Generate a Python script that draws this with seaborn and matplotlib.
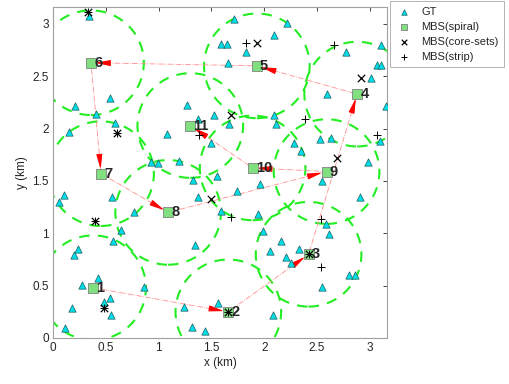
import numpy as np
import pandas as pd
import matplotlib
matplotlib.use("Agg")
import matplotlib.pyplot as plt
from matplotlib.patches import Circle
import seaborn as sns

# Donnees (km)

gt_x = [0.34, 0.54, 0.205, 0.41, 0.15, 0.59, 1.27, 1.37, 1.08, 0.93, 0.99, 1.19,
        1.50, 1.71, 2.22, 2.09, 1.59, 1.645, 1.83, 1.66, 2.77, 3.11, 3.07, 3.11,
        3.01, 2.59, 3.15, 1.52, 1.67, 2.09, 2.11, 2.285, 2.35, 2.53, 2.63, 3.10,
        2.98, 1.33, 1.37, 0.10, 0.06, 0.555, 0.77, 0.64, 0.57, 0.24, 0.20, 1.34,
        0.43, 0.275, 0.86, 0.54, 0.48, 0.18, 0.55, 1.24, 0.11, 1.32, 1.44, 1.55,
        1.74, 1.96, 1.59, 1.94, 1.99, 2.16, 2.05, 2.33, 2.21, 2.25, 2.545, 2.91,
        2.585, 2.61, 2.80, 2.86, 2.55, 1.56, 2.08]
gt_y = [3.08, 2.29, 2.22, 2.14, 1.97, 2.05, 2.23, 2.09, 1.95, 1.68, 1.67, 1.69,
        1.86, 3.05, 3.01, 2.89, 2.81, 2.81, 2.73, 2.63, 2.73, 2.80, 2.61, 2.61,
        2.48, 2.33, 2.22, 2.13, 2.04, 2.13, 2.04, 1.86, 1.785, 1.90, 1.91, 1.88,
        1.68, 1.51, 1.35, 1.365, 1.295, 1.35, 1.20, 1.03, 0.93, 0.85, 0.795, 0.89,
        0.57, 0.51, 0.49, 0.38, 0.34, 0.285, 0.215, 0.30, 0.10, 0.105, 0.07, 1.545,
        1.40, 1.47, 1.21, 1.185, 1.02, 0.93, 0.83, 0.85, 0.77, 0.72, 1.50, 1.35,
        1.09, 0.99, 0.60, 0.60, 0.49, 0.33, 0.22]

spiral_x = [0.38, 1.66, 2.42, 2.88, 1.93, 0.36, 0.455, 1.09, 2.59, 1.89, 1.30]
spiral_y = [0.48, 0.25, 0.80, 2.33, 2.60, 2.63, 1.57, 1.20, 1.59, 1.625, 2.03]

core_x = [0.33, 0.61, 1.935, 2.92, 1.69, 2.69, 1.50, 0.40, 0.485, 1.66, 2.42]
core_y = [3.11, 1.96, 2.82, 2.48, 2.13, 1.72, 1.33, 1.12, 0.29, 0.25, 0.80]

strip_x = [0.33, 0.61, 1.38, 1.83, 2.66, 2.39, 3.07, 1.69, 2.535, 2.535, 0.40,
           0.485, 1.66, 2.42]
strip_y = [3.11, 1.96, 1.94, 2.82, 2.80, 2.09, 1.94, 1.16, 1.135, 0.68, 1.12,
           0.29, 0.25, 0.80]

rayon = 0.5
cote = np.sqrt(10)

sns.set_style("white")
plt.rcParams['font.family'] = ['Liberation Sans', 'DejaVu Sans']

fig = plt.figure(figsize=(5.09, 3.84), dpi=100)
ax = fig.add_axes([53 / 509, 46 / 384, 334 / 509, 331 / 384])

# cercles de couverture
for cx, cy in zip(spiral_x, spiral_y):
    ax.add_patch(Circle((cx, cy), rayon, fill=False, ec='#22ee22', lw=1.5,
                        ls=(0, (5, 4)), zorder=2))

# trajet spirale
ax.plot(spiral_x, spiral_y, ls='-.', color='#ff8c8c', lw=0.6, zorder=3)
for i in range(len(spiral_x) - 1):
    x0, y0 = spiral_x[i], spiral_y[i]
    x1, y1 = spiral_x[i + 1], spiral_y[i + 1]
    d = np.hypot(x1 - x0, y1 - y0)
    ux, uy = (x1 - x0) / d, (y1 - y0) / d
    ax.annotate('', xy=(x1 - ux * 0.04, y1 - uy * 0.04),
                xytext=(x1 - ux * 0.13, y1 - uy * 0.13),
                arrowprops=dict(arrowstyle='-|>,head_length=1.1,head_width=0.22',
                                color='red', lw=0.8, shrinkA=0, shrinkB=0,
                                mutation_scale=8),
                zorder=4)

gt = pd.DataFrame({'x': gt_x, 'y': gt_y})
spiral = pd.DataFrame({'x': spiral_x, 'y': spiral_y})
core = pd.DataFrame({'x': core_x, 'y': core_y})
strip = pd.DataFrame({'x': strip_x, 'y': strip_y})

sns.scatterplot(data=gt, x='x', y='y', marker='^', s=28, color='#00dde8',
                edgecolor='#206060', linewidth=0.5, label='GT', ax=ax, zorder=5)
sns.scatterplot(data=spiral, x='x', y='y', marker='s', s=44, color='#80e080',
                edgecolor='#808080', linewidth=0.6, label='MBS(spiral)', ax=ax,
                zorder=6)
sns.scatterplot(data=core, x='x', y='y', marker='x', s=28, color='black',
                linewidth=0.9, label='MBS(core-sets)', ax=ax, zorder=7)
sns.scatterplot(data=strip, x='x', y='y', marker='+', s=40, color='black',
                linewidth=0.7, label='MBS(strip)', ax=ax, zorder=7)

for k, (sx, sy) in enumerate(zip(spiral_x, spiral_y)):
    ax.text(sx + 0.03, sy, str(k + 1), fontsize=10.5, fontweight='bold',
            va='center', ha='left', zorder=8)

ax.set_xlim(0, cote)
ax.set_ylim(0, cote)
ax.set_xticks([0, 0.5, 1, 1.5, 2, 2.5, 3])
ax.set_xticklabels(['0', '0.5', '1', '1.5', '2', '2.5', '3'])
ax.set_yticks([0, 0.5, 1, 1.5, 2, 2.5, 3])
ax.set_yticklabels(['0', '0.5', '1', '1.5', '2', '2.5', '3'])
ax.tick_params(direction='in', length=3, width=0.6, top=True, right=True,
               labelsize=8.5, colors='#262626', pad=3)
ax.set_xlabel('x (km)', fontsize=8.5, color='#262626', labelpad=2)
ax.set_ylabel('y (km)', fontsize=8.5, color='#262626', labelpad=3)
for sp in ax.spines.values():
    sp.set_color('#a0a0a0')
    sp.set_linewidth(0.8)

h, l = ax.get_legend_handles_labels()
ax.get_legend().remove()
leg = fig.legend(h, l, loc='upper left', bbox_to_anchor=(390 / 509, 383 / 384),
                 fontsize=8, frameon=True, fancybox=False, edgecolor='#a0a0a0',
                 borderpad=0.5, labelspacing=0.45, handletextpad=0.7,
                 handlelength=1.6, borderaxespad=0, markerscale=0.75)
leg.get_frame().set_linewidth(0.7)

fig.savefig('out.png', dpi=100)
